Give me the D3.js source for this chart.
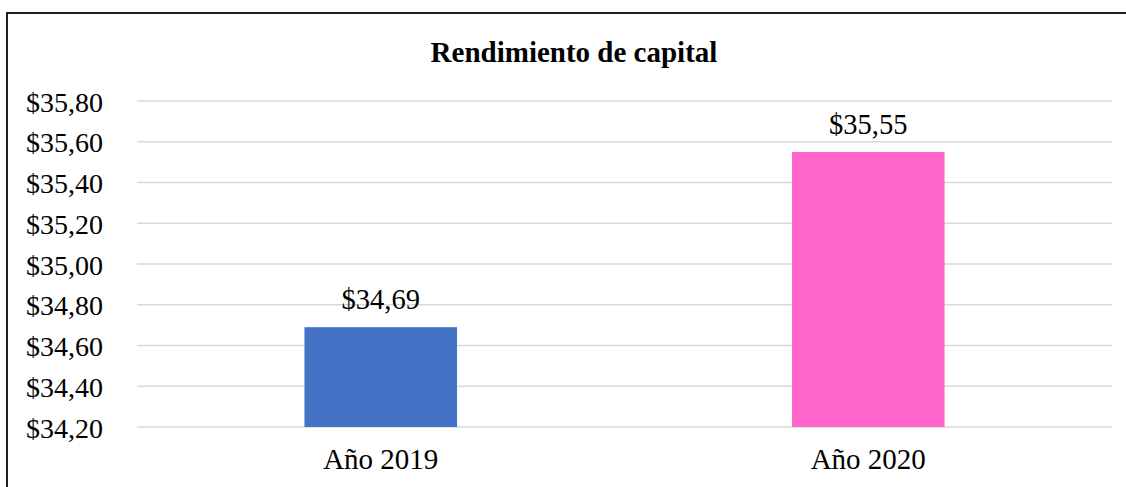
<!DOCTYPE html>
<html>
<head>
<meta charset="utf-8">
<script src="https://cdn.jsdelivr.net/npm/d3@7"></script>
<style>
  html, body { margin: 0; padding: 0; background: #fff; }
  svg { display: block; }
  text { font-family: "Liberation Serif", "Times New Roman", serif; fill: #000; }
</style>
</head>
<body>
<svg id="chart" width="1126" height="487"></svg>
<script>
const title = "Rendimiento de capital";
const categories = ["Año 2019", "Año 2020"];
const values = [34.69, 35.55];
const barColors = ["#4472C4", "#FF66CC"];
const tickValues = [34.2, 34.4, 34.6, 34.8, 35.0, 35.2, 35.4, 35.6, 35.8];

const fmt = v => "$" + v.toFixed(2).replace(".", ",");

const svg = d3.select("#chart");
const plot = { left: 137, right: 1112, top: 101, bottom: 427 };

// outer border (extends past right and bottom edges)
svg.append("rect")
  .attr("x", 7).attr("y", 13)
  .attr("width", 1400).attr("height", 800)
  .attr("fill", "#fff").attr("stroke", "#000").attr("stroke-width", 1.75);

const y = d3.scaleLinear().domain([34.2, 35.8]).range([plot.bottom, plot.top]);
const x = d3.scaleBand().domain(categories)
  .range([plot.left, plot.right])
  .paddingInner(0.687).paddingOuter(0.3435);

// gridlines
svg.append("g").selectAll("line").data(tickValues).join("line")
  .attr("x1", plot.left).attr("x2", plot.right)
  .attr("y1", d => y(d)).attr("y2", d => y(d))
  .attr("stroke", "#d9d9d9").attr("stroke-width", 1.5);

// y axis labels
const yAxis = d3.axisLeft(y).tickValues(tickValues).tickFormat(fmt).tickSize(0).tickPadding(0);
const gy = svg.append("g").attr("transform", `translate(103,0)`).call(yAxis);
gy.select(".domain").remove();
gy.selectAll("text")
  .attr("font-family", "Liberation Serif, Times New Roman, serif")
  .attr("font-size", 28).attr("fill", "#000")
  .attr("dy", "0.36em");

// bars
svg.append("g").selectAll("rect").data(values).join("rect")
  .attr("x", (d, i) => x(categories[i]))
  .attr("width", x.bandwidth())
  .attr("y", d => y(d))
  .attr("height", d => plot.bottom - y(d))
  .attr("fill", (d, i) => barColors[i]);

// data labels
svg.append("g").selectAll("text").data(values).join("text")
  .attr("x", (d, i) => x(categories[i]) + x.bandwidth() / 2)
  .attr("y", d => y(d) - 18)
  .attr("text-anchor", "middle")
  .attr("font-size", 28.5)
  .text(d => fmt(d));

// x axis labels
const xAxis = d3.axisBottom(x).tickSize(0).tickPadding(0);
const gx = svg.append("g").attr("transform", `translate(0,${plot.bottom})`).call(xAxis);
gx.select(".domain").remove();
gx.selectAll("text")
  .attr("font-family", "Liberation Serif, Times New Roman, serif")
  .attr("font-size", 29).attr("fill", "#000")
  .attr("dy", 0).attr("y", 42);

// title
svg.append("text")
  .attr("x", 574).attr("y", 62)
  .attr("text-anchor", "middle")
  .attr("font-size", 29).attr("font-weight", "bold")
  .text(title);
</script>
</body>
</html>
